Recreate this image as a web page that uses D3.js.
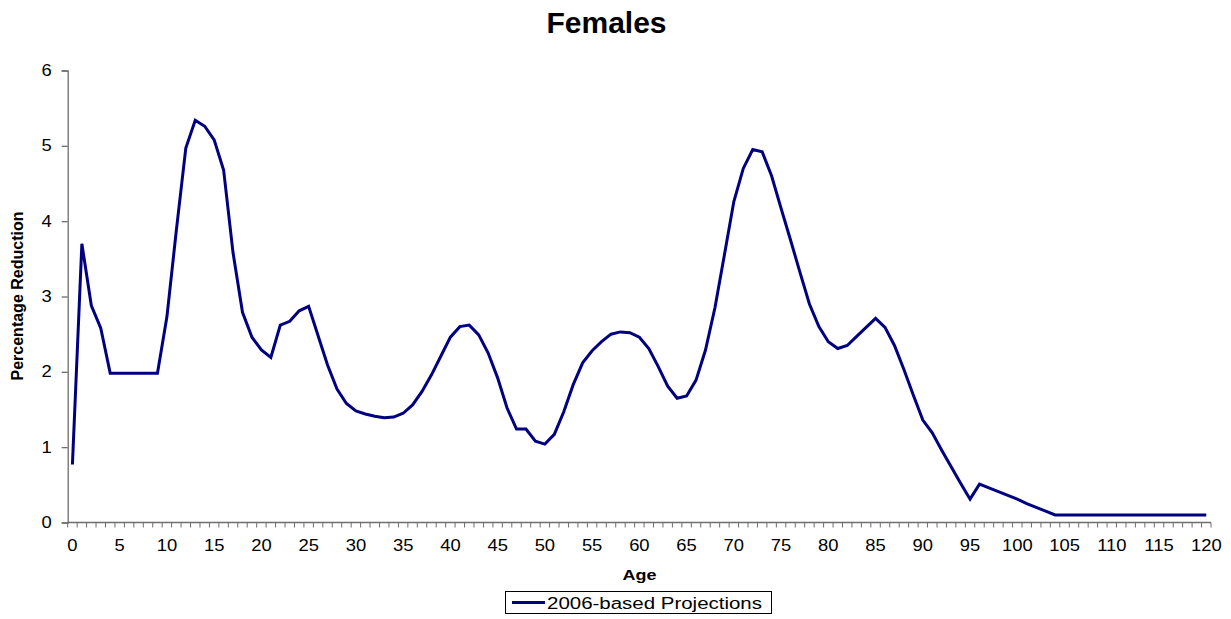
<!DOCTYPE html>
<html>
<head>
<meta charset="utf-8">
<script src="https://cdn.jsdelivr.net/npm/d3@7"></script>
<style>
  html, body { margin: 0; padding: 0; background: #fff; }
  svg { display: block; font-family: "Liberation Sans", Arial, sans-serif; }
</style>
</head>
<body>
<svg id="chart" width="1231" height="619"></svg>
<script>
// ---- Data ----
const chartTitle = "Females";
const xAxisTitle = "Age";
const yAxisTitle = "Percentage Reduction";
const seriesName = "2006-based Projections";

const ages = d3.range(0, 121);
const reduction = [
  0.77, 3.70, 2.88, 2.58, 1.98, 1.98, 1.98, 1.98, 1.98, 1.98,
  2.73, 3.88, 4.97, 5.34, 5.26, 5.08, 4.68, 3.58, 2.79, 2.46,
  2.29, 2.19, 2.62, 2.67, 2.81, 2.87, 2.48, 2.09, 1.77, 1.58,
  1.48, 1.44, 1.41, 1.39, 1.40, 1.45, 1.56, 1.74, 1.96, 2.21,
  2.46, 2.60, 2.62, 2.49, 2.25, 1.92, 1.52, 1.24, 1.24, 1.08,
  1.04, 1.17, 1.47, 1.83, 2.12, 2.28, 2.40, 2.50, 2.53, 2.52,
  2.46, 2.31, 2.07, 1.81, 1.65, 1.68, 1.89, 2.29, 2.85, 3.55,
  4.26, 4.70, 4.95, 4.92, 4.60, 4.17, 3.75, 3.32, 2.90, 2.60,
  2.40, 2.31, 2.35, 2.47, 2.59, 2.71, 2.59, 2.35, 2.03, 1.69,
  1.36, 1.19, 0.96, 0.74, 0.52, 0.31, 0.51, 0.46, 0.41, 0.36,
  0.31, 0.25, 0.20, 0.15, 0.10, 0.10, 0.10, 0.10, 0.10, 0.10,
  0.10, 0.10, 0.10, 0.10, 0.10, 0.10, 0.10, 0.10, 0.10, 0.10,
  0.10
];
const xTickLabels = d3.range(0, 121, 5);
const yTickValues = [0, 1, 2, 3, 4, 5, 6];

// ---- Layout ----
const svg = d3.select("#chart");
const plotLeft = 67.7, plotRight = 1211, plotTop = 70.5, plotBottom = 522.5;
const axisColor = "#6e6e6e";
const lineColor = "#000080";

const x = d3.scaleBand().domain(ages).range([plotLeft, plotRight]).padding(0);
const y = d3.scaleLinear().domain([0, 6]).range([plotBottom, plotTop]);
const cx = a => x(a) + x.bandwidth() / 2;

// Y axis
const yAxis = svg.append("g").attr("transform", `translate(${plotLeft},0)`)
  .call(d3.axisLeft(y).tickValues(yTickValues).tickSize(6).tickPadding(10).tickFormat(d3.format("d")));
yAxis.select(".domain").attr("stroke", axisColor).attr("stroke-width", 1.3);
yAxis.selectAll(".tick line").attr("stroke", axisColor).attr("stroke-width", 1.3);
yAxis.selectAll(".tick text").attr("font-size", 16).attr("fill", "#000")
  .attr("font-family", "Liberation Sans, Arial, sans-serif")
  .attr("transform", "scale(1.15,1)").attr("x", -16 / 1.15);

// X axis: tick marks at band boundaries, labels at band centres every 5
const xg = svg.append("g");
xg.append("line").attr("x1", plotLeft).attr("x2", plotRight).attr("y1", plotBottom).attr("y2", plotBottom)
  .attr("stroke", axisColor).attr("stroke-width", 1.3);
const boundaries = ages.map(a => x(a)).concat([plotRight]);
xg.selectAll("line.tk").data(boundaries).join("line").attr("class", "tk")
  .attr("x1", d => d).attr("x2", d => d).attr("y1", plotBottom).attr("y2", plotBottom + 5)
  .attr("stroke", axisColor).attr("stroke-width", 1);
xg.selectAll("text.tl").data(xTickLabels).join("text").attr("class", "tl")
  .attr("transform", d => `translate(${cx(d)},${plotBottom + 28.5}) scale(1.15,1)`)
  .attr("text-anchor", "middle").attr("font-size", 16).attr("fill", "#000")
  .text(d => d);

// Line
const line = d3.line().x((d, i) => cx(ages[i])).y(d => y(d));
svg.append("path").datum(reduction).attr("d", line)
  .attr("fill", "none").attr("stroke", lineColor).attr("stroke-width", 3)
  .attr("stroke-linejoin", "miter");

// Title
svg.append("text").attr("x", 606.5).attr("y", 33.3).attr("text-anchor", "middle")
  .attr("font-size", 30).attr("font-weight", "bold").text(chartTitle);

// Axis titles
svg.append("text").attr("transform", `translate(639.5,580) scale(1.2,1)`)
  .attr("text-anchor", "middle").attr("font-size", 15).attr("font-weight", "bold").text(xAxisTitle);
svg.append("text").attr("transform", `translate(23.3,296) rotate(-90)`)
  .attr("text-anchor", "middle").attr("font-size", 16).attr("font-weight", "bold").text(yAxisTitle);

// Legend
const lg = svg.append("g");
lg.append("rect").attr("x", 505.5).attr("y", 591.5).attr("width", 266).attr("height", 22)
  .attr("fill", "#fff").attr("stroke", "#000").attr("stroke-width", 1);
lg.append("line").attr("x1", 512).attr("x2", 545).attr("y1", 602.5).attr("y2", 602.5)
  .attr("stroke", lineColor).attr("stroke-width", 3);
lg.append("text").attr("transform", "translate(547,608.5) scale(1.28,1)")
  .attr("font-size", 16).attr("fill", "#000").text(seriesName);
</script>
</body>
</html>
